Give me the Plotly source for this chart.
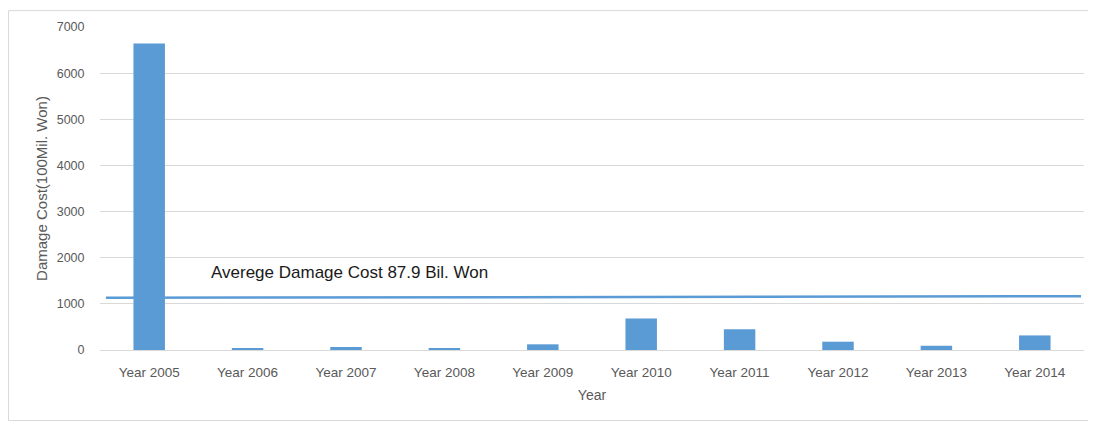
import plotly.graph_objects as go

categories = ["Year 2005", "Year 2006", "Year 2007", "Year 2008", "Year 2009",
              "Year 2010", "Year 2011", "Year 2012", "Year 2013", "Year 2014"]
damage_cost = [6640, 40, 65, 40, 123, 683, 452, 180, 93, 316]
avg_line_x = [-0.44, 9.47]
avg_line_y = [1130, 1165]
avg_label = "Averege Damage Cost 87.9 Bil. Won"
y_ticks = [0, 1000, 2000, 3000, 4000, 5000, 6000, 7000]

idx = list(range(len(categories)))
bar_color = "#5b9bd5"
grid_color = "#d9d9d9"
tick_color = "#595959"
font_family = "Liberation Sans, Arial, sans-serif"

# page has an 8px body margin; figure sized to fill the rest
W, H = 1088, 417
L, R, T, B = 92, 12, 17, 75
pw, ph = W - L - R, H - T - B

fig = go.Figure()
fig.add_trace(go.Bar(x=idx, y=damage_cost, marker=dict(color=bar_color, line=dict(width=0)),
                     width=0.32, showlegend=False))

fig.add_shape(type="line", xref="x", yref="y",
              x0=avg_line_x[0], x1=avg_line_x[1], y0=avg_line_y[0], y1=avg_line_y[1],
              line=dict(color=bar_color, width=2.5), layer="below")

fig.add_annotation(x=(201 - L) / pw, y=(H - B - 264) / ph, xref="paper", yref="paper", text=avg_label,
                   showarrow=False, xanchor="left", yanchor="middle",
                   font=dict(size=17, color="#1a1a1a", family=font_family))

# outer chart border
fig.add_shape(type="rect", xref="paper", yref="paper",
              x0=(0.5 - L) / pw, x1=(1084 - L) / pw,
              y0=(H - B - 413) / ph, y1=(H - B - 0.5) / ph,
              line=dict(color="#d9d9d9", width=1), fillcolor="rgba(0,0,0,0)", layer="below")

fig.update_layout(
    width=W, height=H,
    margin=dict(l=L, r=R, t=T, b=B),
    paper_bgcolor="white", plot_bgcolor="white",
    font=dict(family=font_family, color=tick_color, size=12),
    xaxis=dict(
        tickmode="array", tickvals=idx, ticktext=categories,
        range=[-0.5, len(categories) - 0.5],
        showgrid=False, zeroline=False, showline=False,
        ticks="outside", ticklen=10, tickcolor="rgba(0,0,0,0)",
        tickfont=dict(size=13.5, color=tick_color),
        title=dict(text="Year", font=dict(size=14, color=tick_color), standoff=10),
    ),
    yaxis=dict(
        range=[0, 7000], tickmode="array", tickvals=y_ticks,
        showgrid=True, gridcolor=grid_color, gridwidth=1,
        zeroline=True, zerolinecolor=grid_color, zerolinewidth=1,
        showline=False,
        ticks="outside", ticklen=12, tickcolor="rgba(0,0,0,0)",
        tickfont=dict(size=12.5, color=tick_color),
        title=dict(text="Damage Cost(100Mil. Won)", font=dict(size=15, color=tick_color), standoff=5),
    ),
)

fig.write_html("out.html")
